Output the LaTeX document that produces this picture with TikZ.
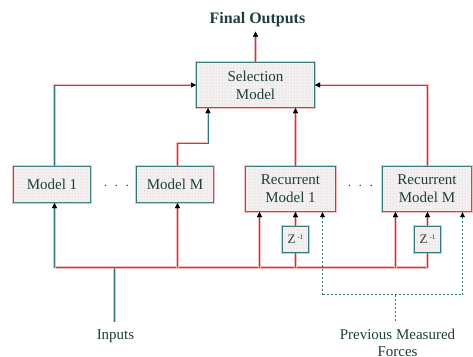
\documentclass[tikz,border=0pt]{standalone}
\usepackage{fontspec}
\setmainfont{Liberation Serif}
\usetikzlibrary{arrows.meta,patterns}
\definecolor{tl}{RGB}{50,120,120}
\definecolor{pk}{RGB}{244,188,188}
\definecolor{tx}{RGB}{30,62,62}
\definecolor{bx}{RGB}{247,240,240}
\definecolor{dt}{RGB}{175,205,205}
\begin{document}
\begin{tikzpicture}[x=1pt,y=-1pt,
  ln/.style={draw=tl, line width=1pt,
    preaction={draw=pk, line width=2.3pt}},
  tip/.style={-{Triangle[length=5pt,width=4.5pt,black]}},
  arr/.style={ln, tip},
  dln/.style={draw=tl, line width=1pt, dash pattern=on 2pt off 2pt},
  darr/.style={dln, tip},
  box/.style={ln, fill=bx, postaction={pattern=dots, pattern color=dt},
    inner sep=0pt, align=center, text=tx,
    font=\fontsize{15}{18}\selectfont},
  lbl/.style={text=tx, inner sep=0pt, font=\fontsize{15}{18}\selectfont},
  zbox/.style={box, minimum width=26pt, minimum height=26pt,
    font=\fontsize{13}{15}\selectfont},
]
\useasboundingbox (0.5,0.5) rectangle (473.5,356.5);

% boxes
\node[box, minimum width=118pt, minimum height=45pt] (sel) at (256,85.5) {Selection\\Model};
\node[box, minimum width=77pt, minimum height=36pt] (m1) at (52.5,185) {Model 1};
\node[box, minimum width=77pt, minimum height=36pt] (mM) at (175.5,185) {Model M};
\node[box, minimum width=90pt, minimum height=45pt] (r1) at (291,189.5) {Recurrent\\Model 1};
\node[box, minimum width=89pt, minimum height=45pt] (rM) at (427.5,189.5) {Recurrent\\Model M};
\node[zbox] (z1) at (296,240) {Z\,\raisebox{4pt}{\fontsize{7}{8}\selectfont -1}};
\node[zbox] (z2) at (428,240) {Z\,\raisebox{4pt}{\fontsize{7}{8}\selectfont -1}};

% dots
\node[lbl] (dots1) at (117,187) {$\cdot$\hspace{7pt}$\cdot$\hspace{7pt}$\cdot$};
\node[lbl] (dots2) at (361,187) {$\cdot$\hspace{7pt}$\cdot$\hspace{7pt}$\cdot$};

% labels
\node[lbl, font=\fontsize{16}{18}\selectfont\bfseries, anchor=base] (fo) at (258,23.5) {Final Outputs};
\coordinate (fot) at (256,32);
\node[lbl, anchor=base] (inp) at (116,340) {Inputs};
\node[lbl, anchor=base] (pm) at (398,340) {Previous Measured};
\node[lbl, anchor=base] (pf) at (398,357) {Forces};

% bus coordinates
\coordinate (b1) at (55,268);
\coordinate (b2) at (178,268);
\coordinate (b3) at (260,268);
\coordinate (b4) at (296,268);
\coordinate (b5) at (396,268);
\coordinate (b6) at (428,268);
\coordinate (bin) at (115,268);
\coordinate (inpt) at (115,322);
\coordinate (d1) at (323,295);
\coordinate (d2) at (463,295);
\coordinate (dm) at (396,295);
\coordinate (dmb) at (396,322);

% upper connectors
\draw[arr] (sel.north -| fot) -- (fot);
\draw[arr] (b1 |- m1.north) |- (sel.west);
\draw[arr] (b6 |- rM.north) |- (sel.east);
\draw[arr] (b2 |- mM.north) -- ++(0,-23) -| ([xshift=12pt]sel.south west);
\draw[arr] (r1.north -| z1) -- (z1 |- sel.south);

% bus
\draw[ln] (b1) -- (b6);
\draw[ln] (bin) -- (inpt);
\draw[arr] (b1) -- (b1 |- m1.south);
\draw[arr] (b2) -- (b2 |- mM.south);
\draw[arr] (b3) -- (b3 |- r1.south);
\draw[ln] (b4) -- (z1.south);
\draw[arr] (z1.north) -- (z1.north |- r1.south);
\draw[arr] (b5) -- (b5 |- rM.south);
\draw[ln] (b6) -- (z2.south);
\draw[arr] (z2.north) -- (z2.north |- rM.south);

% dashed
\draw[dln] (d1) -- (d2);
\draw[dln] (dm) -- (dmb);
\draw[darr] (d1) -- (d1 |- r1.south);
\draw[darr] (d2) -- (d2 |- rM.south);
\end{tikzpicture}
\end{document}
